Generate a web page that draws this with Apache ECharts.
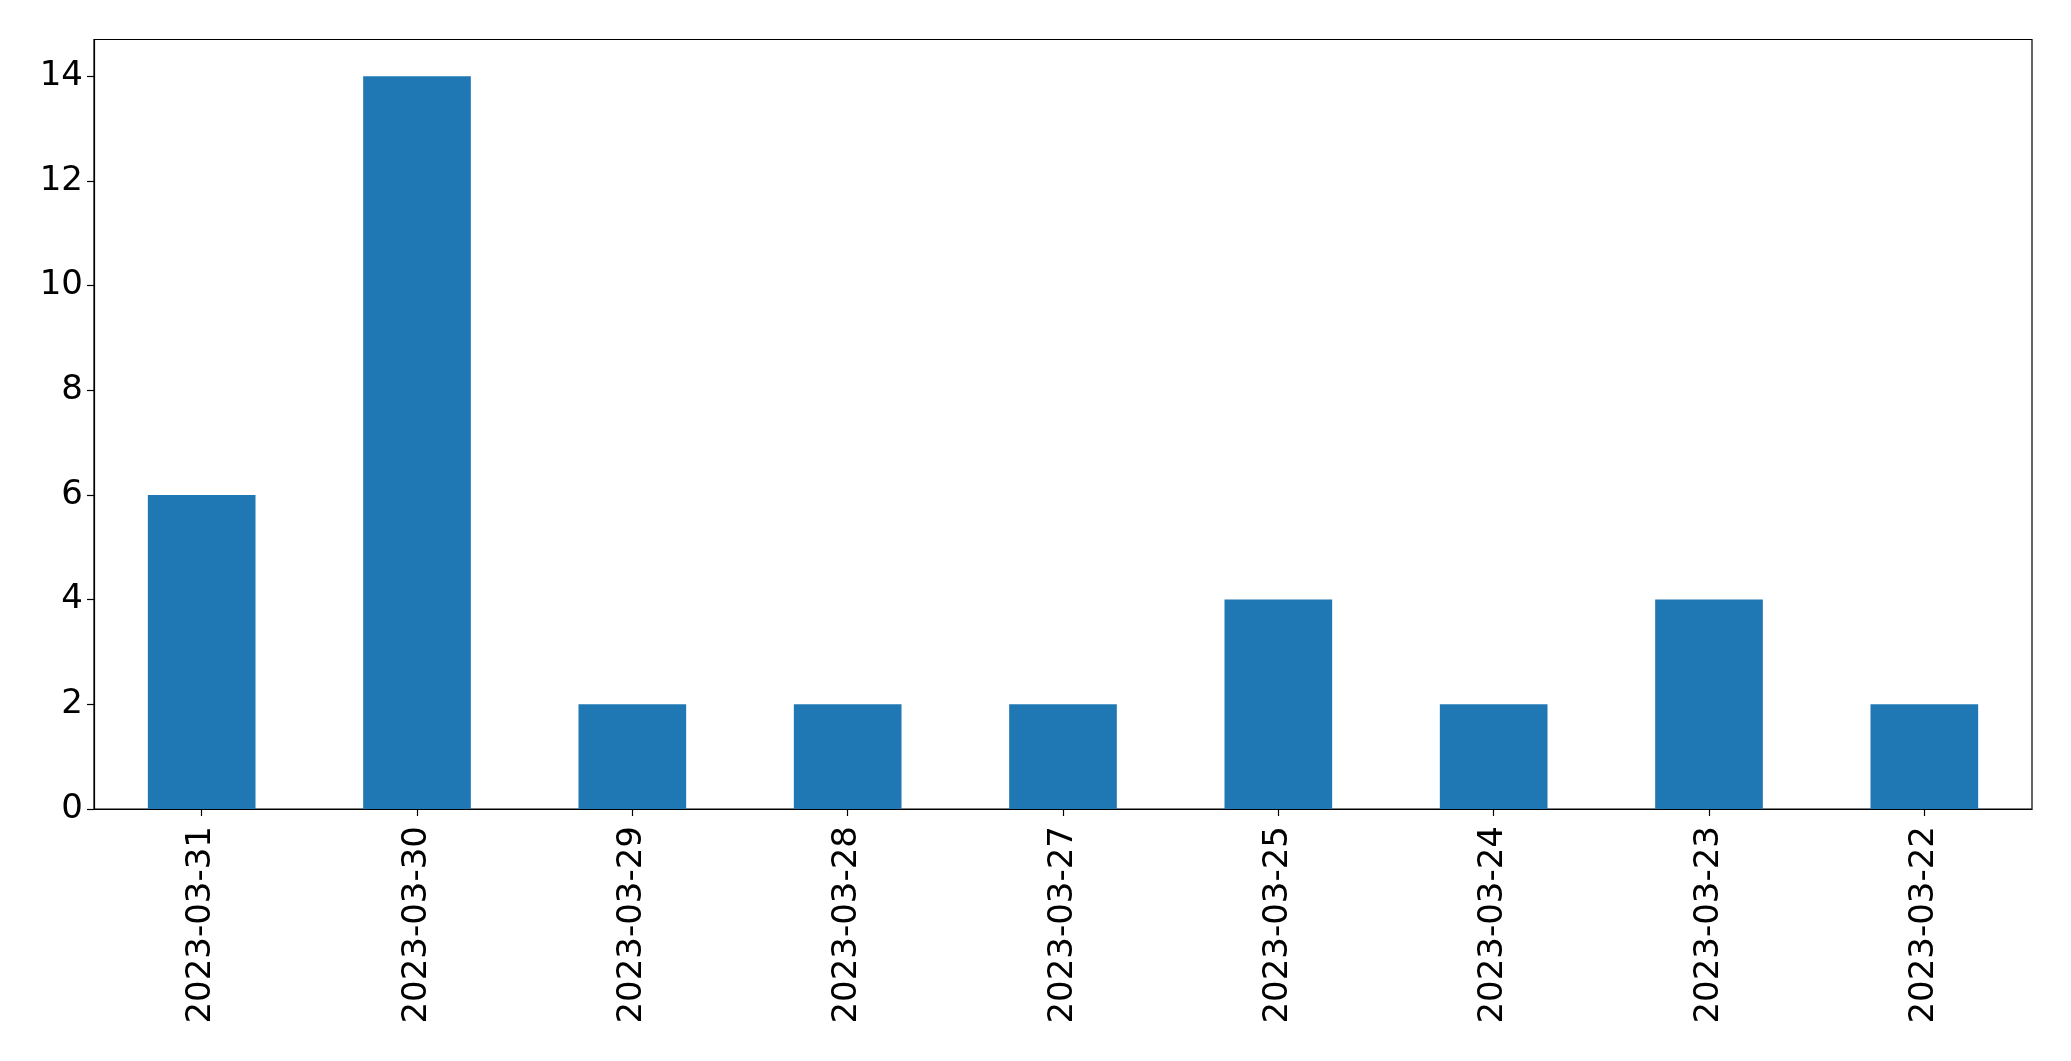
<!DOCTYPE html>
<html>
<head>
<meta charset="utf-8">
<script src="https://cdn.jsdelivr.net/npm/echarts@6/dist/echarts.min.js"></script>
<style>
html,body{margin:0;padding:0;background:#fff;}
#chart{width:2071px;height:1061px;}
</style>
</head>
<body>
<div id="chart"></div>
<script>
const categories = ['2023-03-31','2023-03-30','2023-03-29','2023-03-28','2023-03-27','2023-03-25','2023-03-24','2023-03-23','2023-03-22'];
const values = [6, 14, 2, 2, 2, 4, 2, 4, 2];
const yTicks = [0, 2, 4, 6, 8, 10, 12, 14];

const chart = echarts.init(document.getElementById('chart'));
chart.setOption({
  animation: false,
  backgroundColor: '#fff',
  grid: {
    left: 94, right: 39, top: 39.5, bottom: 252,
    show: true, borderColor: '#000', borderWidth: 1.2, containLabel: false
  },
  xAxis: {
    type: 'category',
    data: categories,
    axisLine: { show: true, lineStyle: { color: '#000', width: 1.2 } },
    axisTick: { show: true, alignWithLabel: true, length: 7, lineStyle: { color: '#000', width: 1.2 } },
    axisLabel: {
      rotate: 90, margin: 17, color: '#000',
      fontFamily: 'DejaVu Sans', fontSize: 34
    },
    splitLine: { show: false }
  },
  yAxis: {
    type: 'value',
    min: 0, max: 14.7,
    axisLine: { show: true, lineStyle: { color: '#000', width: 1.2 } },
    axisTick: { show: true, length: 7, customValues: yTicks, lineStyle: { color: '#000', width: 1.2 } },
    axisLabel: {
      margin: 11, color: '#000', customValues: yTicks,
      fontFamily: 'DejaVu Sans', fontSize: 34
    },
    splitLine: { show: false }
  },
  series: [{
    type: 'bar',
    data: values,
    barWidth: '50%',
    itemStyle: { color: '#1f77b4' }
  }]
});
</script>
</body>
</html>
